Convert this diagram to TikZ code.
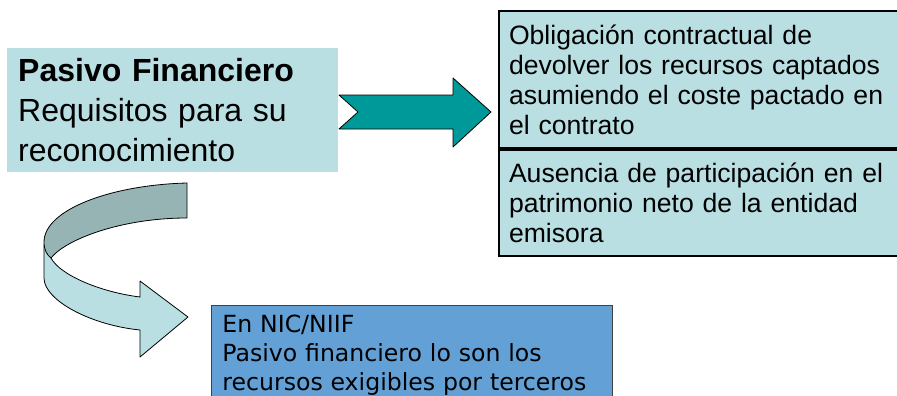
\documentclass[tikz,border=0pt]{standalone}
\usepackage{fontspec}
\setmainfont{Liberation Sans}
\newfontfamily\verdana{DejaVu Sans}
\usetikzlibrary{positioning}

\definecolor{paleblue}{HTML}{B9DFE3}
\definecolor{teal}{HTML}{009999}
\definecolor{ribbongray}{HTML}{97B4B5}
\definecolor{niifblue}{HTML}{62A0D6}

\begin{document}
\begin{tikzpicture}[
  x=1pt, y=-1pt,
  titlebox/.style={fill=paleblue, inner sep=0pt, inner xsep=11pt,
                   text width=309pt, minimum width=331pt,
                   minimum height=124pt, align=left, anchor=north west,
                   font=\fontsize{32}{40}\selectfont},
  reqbox/.style={draw=black, line width=2pt, fill=paleblue,
                 inner sep=0pt, inner xsep=10pt, text width=390pt,
                 align=left, font=\fontsize{26.6}{30}\selectfont},
  niifbox/.style={draw=black!75, line width=0.8pt, fill=niifblue,
                  inner xsep=11pt, inner ysep=10pt, text width=379pt,
                  align=left, anchor=north west,
                  font=\verdana\fontsize{23.6}{29}\selectfont},
  shape line/.style={draw=black, line width=0.8pt, line join=round}
]
\useasboundingbox (0,0) rectangle (897,396);
\clip (0,0) rectangle (897,396);

% Title
\node[titlebox] (pasivo) at (7,48)
  {\textbf{Pasivo Financiero}\\Requisitos para su\\reconocimiento};

% Requirements
\node[reqbox, anchor=north west, minimum height=137pt] (oblig) at (498,10)
  {Obligación contractual de\\devolver los recursos captados\\asumiendo el coste pactado en\\el contrato};
\node[reqbox, below=0pt of oblig, minimum height=106pt] (ausencia)
  {Ausencia de participación en el\\patrimonio neto de la entidad\\emisora};

% NIC/NIIF note
\node[niifbox] (niif) at (211,305)
  {En NIC/NIIF\\Pasivo financiero lo son los\\recursos exigibles por terceros};

% Block arrow towards the requirements
\draw[shape line, fill=teal]
  (339,95) -- (358,112) -- (339,129) -- (453,129) -- (453,147)
  -- (491,112) -- (453,78) -- (453,95) -- cycle;

% Curved ribbon arrow towards the note
\draw[shape line, fill=paleblue]
  (44,245) -- (44,278) .. controls (44,300) and (90,325) .. (140,330)
  -- (140,357) -- (188,317) -- (140,281) -- (140,297)
  .. controls (100,292) and (60,275) .. (51,258) -- cycle;
\draw[shape line, fill=ribbongray]
  (187,183) .. controls (110,185) and (44,210) .. (44,242)
  .. controls (44,250) and (47,255) .. (51,258)
  .. controls (65,240) and (120,218) .. (187,218) -- cycle;

\end{tikzpicture}
\end{document}
